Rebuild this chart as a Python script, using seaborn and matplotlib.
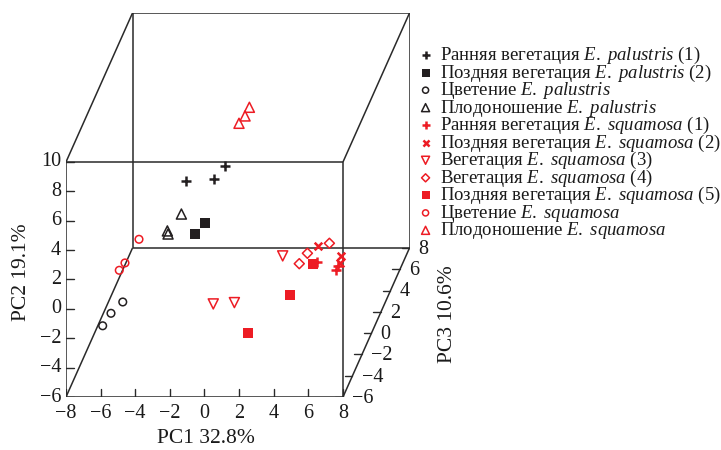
import numpy as np
import pandas as pd
import matplotlib
matplotlib.use("Agg")
import matplotlib.pyplot as plt
import seaborn as sns

# ---- PCA scores (PC1, PC2, PC3) for each sample group ----
pal_early_pc1 = [-3.28, -1.65, -1.01]
pal_early_pc2 = [2.93, 3.03, 3.95]
pal_early_pc3 = [2, 2, 2]

pal_late_pc1 = [-2.15, -2.76]
pal_late_pc2 = [0.07, -0.70]
pal_late_pc3 = [2, 2]

pal_flower_pc1 = [-5.27, -5.95, -6.43]
pal_flower_pc2 = [-0.98, -1.75, -2.60]
pal_flower_pc3 = [-4, -4, -4]

pal_fruit_pc1 = [-3.53, -4.34, -4.30]
pal_fruit_pc2 = [0.66, -0.49, -0.70]
pal_fruit_pc3 = [2, 2, 2]

sq_early_pc1 = [3.77, 4.94, 4.84]
sq_early_pc2 = [-4.07, -4.33, -4.60]
sq_early_pc3 = [4, 4, 4]

sq_late2_pc1 = [3.83, 5.12, 5.06]
sq_late2_pc2 = [-2.94, -3.62, -4.09]
sq_late2_pc3 = [4, 4, 4]

sq_veg3_pc1 = [2.87, -1.14, 0.08]
sq_veg3_pc2 = [-0.74, -4.01, -3.92]
sq_veg3_pc3 = [0, 0, 0]

sq_veg4_pc1 = [4.47, 3.20, 2.73]
sq_veg4_pc2 = [-2.78, -3.46, -4.17]
sq_veg4_pc3 = [4, 4, 4]

sq_late5_pc1 = [5.19, 3.84, 1.40]
sq_late5_pc2 = [0.13, -1.96, -4.52]
sq_late5_pc3 = [-2, -2, -2]

sq_flower_pc1 = [-5.43, -6.24, -6.57]
sq_flower_pc2 = [0.39, -1.22, -1.72]
sq_flower_pc3 = [0, 0, 0]

sq_fruit_pc1 = [-0.70, -0.95, -1.30]
sq_fruit_pc2 = [5.03, 4.44, 3.94]
sq_fruit_pc3 = [6, 6, 6]

group_labels = [
    r"Ранняя вегетация $\mathit{E.\ palustris}$ (1)",
    r"Поздняя вегетация $\mathit{E.\ palustris}$ (2)",
    r"Цветение $\mathit{E.\ palustris}$",
    r"Плодоношение $\mathit{E.\ palustris}$",
    r"Ранняя вегетация $\mathit{E.\ squamosa}$ (1)",
    r"Поздняя вегетация $\mathit{E.\ squamosa}$ (2)",
    r"Вегетация $\mathit{E.\ squamosa}$ (3)",
    r"Вегетация $\mathit{E.\ squamosa}$ (4)",
    r"Поздняя вегетация $\mathit{E.\ squamosa}$ (5)",
    r"Цветение $\mathit{E.\ squamosa}$",
    r"Плодоношение $\mathit{E.\ squamosa}$",
]

group_scores = [
    (pal_early_pc1, pal_early_pc2, pal_early_pc3),
    (pal_late_pc1, pal_late_pc2, pal_late_pc3),
    (pal_flower_pc1, pal_flower_pc2, pal_flower_pc3),
    (pal_fruit_pc1, pal_fruit_pc2, pal_fruit_pc3),
    (sq_early_pc1, sq_early_pc2, sq_early_pc3),
    (sq_late2_pc1, sq_late2_pc2, sq_late2_pc3),
    (sq_veg3_pc1, sq_veg3_pc2, sq_veg3_pc3),
    (sq_veg4_pc1, sq_veg4_pc2, sq_veg4_pc3),
    (sq_late5_pc1, sq_late5_pc2, sq_late5_pc3),
    (sq_flower_pc1, sq_flower_pc2, sq_flower_pc3),
    (sq_fruit_pc1, sq_fruit_pc2, sq_fruit_pc3),
]

x_ticks = [-8, -6, -4, -2, 0, 2, 4, 6, 8]
y_ticks = [-6, -4, -2, 0, 2, 4, 6, 8, 10]
z_ticks = [-6, -4, -2, 0, 2, 4, 6, 8]

# ---- styling ----
BLACK = "#231f20"
RED = "#ed1c24"
EDGE = "#2a2a2a"
# marker, colour, open?, size, line width
styles = [
    ("+", BLACK, False, 48, 1.8),
    ("s", BLACK, False, 44, 0.0),
    ("o", BLACK, True, 30, 1.1),
    ("^", BLACK, True, 52, 1.1),
    ("+", RED, False, 48, 1.8),
    ("x", RED, False, 30, 1.8),
    ("v", RED, True, 52, 1.1),
    ("D", RED, True, 26, 1.1),
    ("s", RED, False, 44, 0.0),
    ("o", RED, True, 30, 1.1),
    ("^", RED, True, 52, 1.1),
]

sns.set_theme(style="white")
plt.rcParams["font.family"] = ["Liberation Serif", "DejaVu Serif"]
plt.rcParams["mathtext.fontset"] = "custom"
plt.rcParams["mathtext.rm"] = "Liberation Serif"
plt.rcParams["mathtext.it"] = "Liberation Serif:italic"

# oblique projection of the PC3 axis onto the page
X0, X1 = x_ticks[0], x_ticks[-1]
Y0, Y1 = y_ticks[0], y_ticks[-1]
Z0, Z1 = z_ticks[0], z_ticks[-1]
CX, CY = 0.2744, 0.7246


def project(x, y, z):
    x, y, z = np.asarray(x, float), np.asarray(y, float), np.asarray(z, float)
    return x + (z - Z0) * CX, y + (z - Z0) * CY


fig = plt.figure(figsize=(7.21, 4.5), dpi=100)
ax = fig.add_axes([66 / 721, 53 / 450, 343.5 / 721, 384 / 450])
ax.set_xlim(X0, X1 + (Z1 - Z0) * CX)
ax.set_ylim(Y0, Y1 + (Z1 - Z0) * CY)
ax.axis("off")

# box edges
corners = [(x, y, z) for x in (X0, X1) for y in (Y0, Y1) for z in (Z0, Z1)]
for i, a in enumerate(corners):
    for b in corners[i + 1:]:
        if sum(p != q for p, q in zip(a, b)) == 1:
            u, v = project([a[0], b[0]], [a[1], b[1]], [a[2], b[2]])
            ax.plot(u, v, color=EDGE, lw=1.1, zorder=1, solid_capstyle="butt")

tick_kw = dict(color=EDGE, lw=1.0, zorder=1)
lab_kw = dict(fontsize=14.5, color="#1a1a1a", textcoords="offset points")


def fmt(t):
    return str(t).replace("-", "\u2212")


# PC1 ticks along the front bottom edge
for t in x_ticks:
    u, v = project(t, Y0, Z0)
    ax.plot([u, u], [v, v + 0.52], **tick_kw)
    ax.annotate(fmt(t), (u, v), xytext=(0, -12), ha="center", va="center", **lab_kw)

# PC2 ticks along the front left edge
for t in y_ticks:
    u, v = project(X0, t, Z0)
    ax.plot([u, u + 0.46], [v, v], **tick_kw)
    ax.annotate(fmt(t), (u, v), xytext=(-3.5, 0), ha="right", va="center", **lab_kw)

# PC3 ticks along the receding bottom-right edge
for t in z_ticks:
    u, v = project(X1, Y0, t)
    ax.plot([u - 0.46, u], [v, v], **tick_kw)
    ax.annotate(fmt(t), (u, v), xytext=(6.5, -1), ha="left", va="center", **lab_kw)

# axis titles
u, v = project(0, Y0, Z0)
ax.annotate("PC1 32.8%", (u, v), xytext=(1, -30), ha="center", va="center",
            fontsize=15.5, color="#1a1a1a", textcoords="offset points")
u, v = project(X0, 2.5, Z0)
ax.annotate("PC2 19.1%", (u, v), xytext=(-32, 0), ha="center", va="center",
            rotation=90, fontsize=15.5, color="#1a1a1a", textcoords="offset points")
u, v = project(X1, Y0, 1)
ax.annotate("PC3 10.6%", (u, v), xytext=(51, 6), ha="center", va="center",
            rotation=90, fontsize=15.5, color="#1a1a1a", textcoords="offset points")

# sample points
for label, (p1, p2, p3), (mk, col, hollow, size, lw) in zip(group_labels, group_scores, styles):
    u, v = project(p1, p2, p3)
    df = pd.DataFrame({"u": u, "v": v})
    kw = dict(marker=mk, s=size, linewidth=lw, label=label, zorder=3)
    if hollow:
        kw.update(facecolor="none", edgecolor=col, color=col)
    elif mk in ("+", "x"):
        kw.update(color=col)
    else:
        kw.update(color=col, edgecolor=col)
    sns.scatterplot(data=df, x="u", y="v", ax=ax, legend=False, **kw)

handles, labels = ax.get_legend_handles_labels()
leg = ax.legend(handles, labels, loc="upper left", bbox_to_anchor=(419 / 721, 1 - 45 / 450),
                bbox_transform=fig.transFigure, frameon=False, fontsize=13.5,
                handlelength=0.7, handletextpad=0.4, labelspacing=-0.19,
                borderpad=0, borderaxespad=0, markerscale=0.8)
for txt in leg.get_texts():
    txt.set_color("#1a1a1a")

fig.savefig("out.png", dpi=100)
